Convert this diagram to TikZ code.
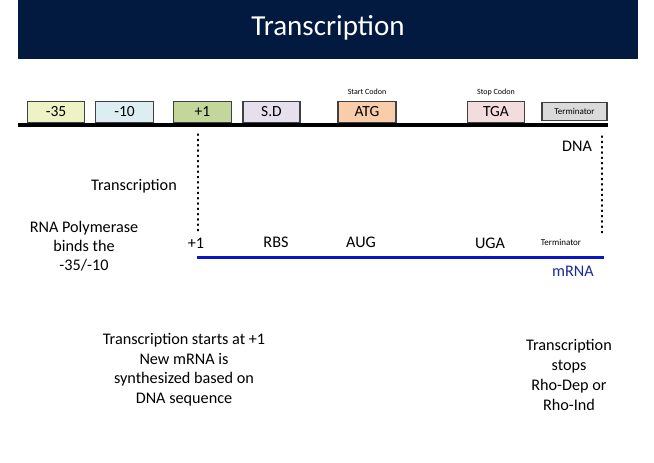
\documentclass[tikz,border=0pt]{standalone}
\usepackage{fontspec}
\setmainfont{Carlito}
\definecolor{navy}{HTML}{021A40}
\definecolor{cY}{HTML}{EEF3C6}
\definecolor{cC}{HTML}{DDEEF2}
\definecolor{cG}{HTML}{C3D69B}
\definecolor{cL}{HTML}{E5E0EC}
\definecolor{cP}{HTML}{F9CDA9}
\definecolor{cK}{HTML}{F3DCDD}
\definecolor{cT}{HTML}{DADADA}
\definecolor{mblue}{HTML}{0A14C8}
\definecolor{mtext}{HTML}{1A2A9A}
\begin{document}
\begin{tikzpicture}[x=1pt,y=-1pt,
  seg/.style={draw=black!75,line width=1.1pt,minimum height=21pt,inner sep=0pt,font=\fontsize{15.5}{15.5}\selectfont,anchor=south},
  lbl/.style={font=\fontsize{16.2}{19}\selectfont,align=center,inner sep=0pt},
  tiny/.style={font=\fontsize{8}{8}\selectfont,inner sep=0pt},
  dots/.style={line width=1.3pt,dash pattern=on 1.3pt off 4pt,line cap=round}]
\useasboundingbox (0,0) rectangle (654,463);
\fill[white] (0,0) rectangle (654,463);
\fill[navy] (18,0) rectangle (638,59);
\node[text=white,font=\fontsize{29}{29}\selectfont] (title) at (328,28) {Transcription};
% DNA
\coordinate (dnaL) at (18,125);
\coordinate (dnaR) at (608,125);
\node[seg,fill=cY,minimum width=57pt] (b35) at (56,123) {-35};
\node[seg,fill=cC,minimum width=58pt] (b10) at (124.5,123) {-10};
\node[seg,fill=cG,minimum width=58pt] (bp1) at (202.5,123) {+1};
\node[seg,fill=cL,minimum width=57pt] (bsd) at (271.5,123) {S.D};
\node[seg,fill=cP,minimum width=58pt] (batg) at (367,123) {ATG};
\node[seg,fill=cK,minimum width=57pt] (btga) at (496,123) {TGA};
\node[seg,fill=cT,minimum width=65pt,minimum height=18pt,font=\fontsize{9}{9}\selectfont] (bterm) at (574.5,121) {Terminator};
\draw[line width=4pt] (dnaL) -- (dnaR);
\node[tiny] (start) at (367,92) {Start Codon};
\node[tiny] (stop) at (496,92) {Stop Codon};
\node[lbl] (dna) at (577,146) {DNA};
% dotted lines
\coordinate (d1a) at (198,134);
\coordinate (d1b) at (198,232);
\coordinate (d2a) at (602,136);
\coordinate (d2b) at (602,236);
\draw[dots] (d1a) -- (d1b);
\draw[dots] (d2a) -- (d2b);
\node[lbl] (trans) at (134,186) {Transcription};
\node[lbl] (rnap) at (84,246) {RNA Polymerase\\binds the\\-35/-10};
% mRNA labels
\node[lbl] (p1) at (196,243) {+1};
\node[lbl] (rbs) at (276,242) {RBS};
\node[lbl] (aug) at (361,242) {AUG};
\node[lbl] (uga) at (490,243) {UGA};
\node[font=\fontsize{9}{9}\selectfont,inner sep=0pt] (mterm) at (561,242) {Terminator};
\coordinate (mL) at (197,257);
\coordinate (mR) at (604,257);
\draw[mblue,line width=3pt] (mL) -- (mR);
\node[lbl,text=mtext] (mrna) at (573,271) {mRNA};
% bottom texts
\node[lbl,font=\fontsize{16.2}{19.5}\selectfont] (starts) at (184,369.5) {Transcription starts at +1\\New mRNA is\\synthesized based on\\DNA sequence};
\node[lbl,font=\fontsize{16.2}{20}\selectfont] (stops) at (569,375) {Transcription\\stops\\Rho-Dep or\\Rho-Ind};
\end{tikzpicture}
\end{document}
